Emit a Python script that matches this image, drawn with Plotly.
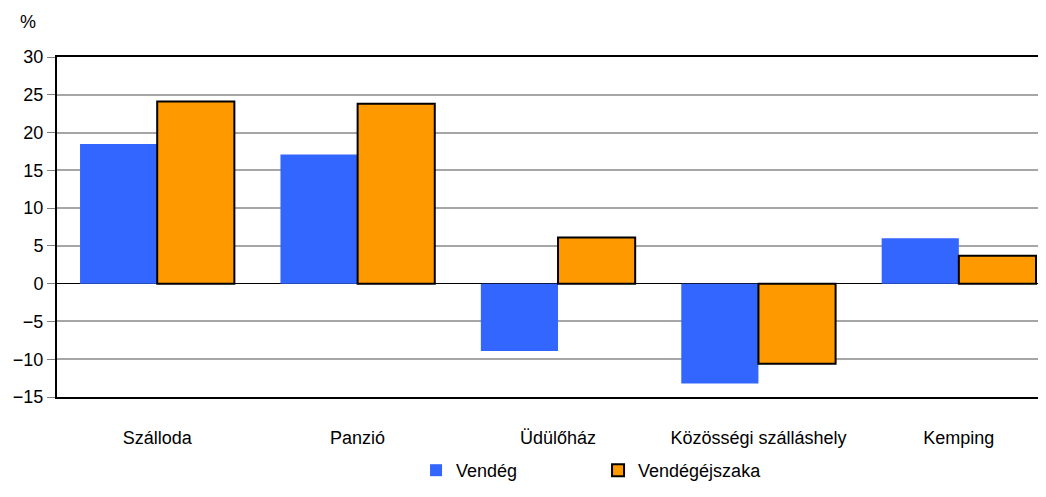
import plotly.graph_objects as go

categories = ["Szálloda", "Panzió", "Üdülőház", "Közösségi szálláshely", "Kemping"]
vendeg = [18.5, 17.1, -8.9, -13.2, 6.0]
vendegejszaka = [24.1, 23.8, 6.1, -10.6, 3.7]
y_ticks = [-15, -10, -5, 0, 5, 10, 15, 20, 25, 30]

FONT = "Liberation Sans, Arial, sans-serif"

fig = go.Figure()
fig.add_trace(go.Bar(
    name="Vendég", x=categories, y=vendeg,
    marker=dict(color="#3366FF", line=dict(width=0)),
))
fig.add_trace(go.Bar(
    name="Vendégéjszaka", x=categories, y=vendegejszaka,
    marker=dict(color="#FF9900", line=dict(color="black", width=2)),
))

fig.update_layout(
    width=1030, height=481,
    margin=dict(l=49, r=0, t=49, b=92, autoexpand=False),
    paper_bgcolor="white", plot_bgcolor="white",
    barmode="group", bargap=0.23, bargroupgap=0,
    font=dict(family=FONT, size=18, color="black"),
    showlegend=True,
    legend=dict(
        orientation="h", x=0.366, xanchor="left",
        yref="container", y=0.0, yanchor="bottom",
        font=dict(size=18), entrywidth=137, entrywidthmode="pixels",
        itemwidth=30, traceorder="normal",
    ),
    xaxis=dict(
        range=[-0.5, 4.395], showgrid=False, showline=True, linecolor="black",
        linewidth=2, mirror=True, ticks="", ticklabelstandoff=23,
        tickfont=dict(size=18), automargin=False,
    ),
    yaxis=dict(
        range=[-15, 30], tickvals=y_ticks, showgrid=True, gridcolor="#a6a6a6",
        gridwidth=2, showline=True, linecolor="black", linewidth=2,
        ticks="outside", ticklen=8, tickcolor="#808080", tickwidth=1,
        zeroline=True, zerolinecolor="black", zerolinewidth=1,
        tickfont=dict(size=18), automargin=False,
    ),
    annotations=[dict(
        text="%", xref="paper", yref="paper", x=-0.0296, y=1.0, yshift=35,
        xanchor="center", yanchor="middle", showarrow=False,
        font=dict(size=18),
    )],
)

fig.write_html("out.html")
